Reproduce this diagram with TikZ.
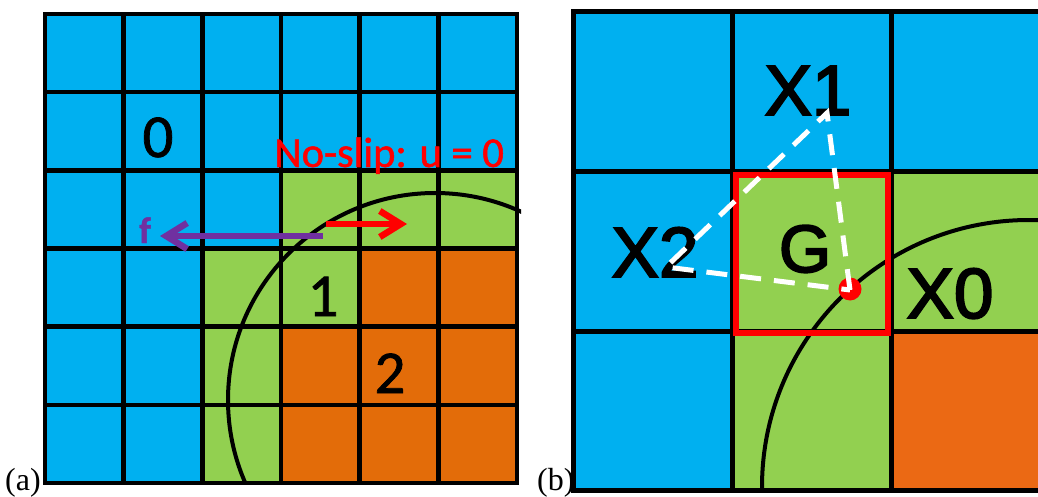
\documentclass[tikz,border=0pt]{standalone}
\usepackage{fontspec}
\setmainfont{Liberation Serif}
\newfontfamily\calfont{Carlito}[FakeBold=1.2]
\newfontfamily\arialfont{Liberation Sans}[FakeBold=2.8]
\usetikzlibrary{arrows.meta}
\definecolor{cblue}{HTML}{00B0F0}
\definecolor{cgreen}{HTML}{92D050}
\definecolor{corange}{HTML}{E36C09}
\definecolor{corangeb}{HTML}{EB6914}
\definecolor{cpurple}{HTML}{7030A0}
\definecolor{cred}{HTML}{FF0000}
\tikzset{
  lgrid/.style={line width=4.5pt, black, line cap=rect},
  rgrid/.style={line width=5pt, black, line cap=rect},
  arcline/.style={line width=4pt, black},
  digitlab/.style={inner sep=0pt, anchor=base, font=\calfont\fontsize{61}{61}\selectfont},
  xlab/.style={inner sep=0pt, anchor=base, font=\arialfont\fontsize{71}{71}\selectfont},
  caplab/.style={inner sep=0pt, anchor=base west, font=\fontsize{32}{32}\selectfont},
  barrow/.style={line width=6.5pt, -{Straight Barb[length=21pt,width=26pt]}},
  triline/.style={white, line width=5pt, dash pattern=on 21pt off 13pt, line cap=butt, line join=miter},
}
\begin{document}
\begin{tikzpicture}[x=1pt,y=-1pt]
\useasboundingbox (0,0) rectangle (1038,497);
% ---------- left grid (a) ----------
\fill[cblue] (45,14) rectangle (517,483);
\fill[cgreen] (281,170.3) rectangle (517,248.5);
\fill[cgreen] (202.3,248.5) rectangle (359.7,326.7);
\fill[cgreen] (202.3,326.7) rectangle (281,483);
\fill[corange] (359.7,248.5) rectangle (517,326.7);
\fill[corange] (281,326.7) rectangle (517,483);
\foreach \i in {0,...,6} {
  \draw[lgrid] ({45+\i*78.667},14) -- ({45+\i*78.667},483);
  \draw[lgrid] (45,{14+\i*78.167}) -- (517,{14+\i*78.167});
}
\begin{scope}
  \clip (45,14) rectangle (521,483);
  \draw[arcline] (435,400) circle[radius=207pt];
\end{scope}
\node[digitlab] (zero) at (158,157) {0};
\node[digitlab] (one) at (323,316) {1};
\node[digitlab] (two) at (390,393) {2};
\node[inner sep=0pt, anchor=base west, text=cred, font=\calfont\fontsize{42.5}{42.5}\selectfont] (noslip) at (274,167) {No-slip: u = 0};
\node[inner sep=0pt, anchor=base, text=cpurple, font=\calfont\bfseries\fontsize{37}{37}\selectfont] (flab) at (145,243) {f};
\coordinate (fstart) at (323,236);
\coordinate (fend) at (160,236);
\coordinate (ustart) at (326,224);
\coordinate (uend) at (407,224);
\draw[barrow, cpurple] (fstart) -- (fend);
\draw[barrow, cred] (ustart) -- (uend);
\node[caplab] (capa) at (5,490) {(a)};
% ---------- right grid (b) ----------
\fill[cblue] (573,12) rectangle (1050,490);
\fill[cgreen] (732,172) rectangle (1050,331);
\fill[cgreen] (732,331) rectangle (891,490);
\fill[corangeb] (891,331) rectangle (1050,490);
\foreach \x in {573,732,891} {
  \draw[rgrid] (\x,12) -- (\x,490);
}
\foreach \y in {12,172,331,490} {
  \draw[rgrid] (573,\y) -- (1050,\y);
}
\begin{scope}
  \clip (573,12) rectangle (1050,490);
  \draw[arcline] (1029,487) circle[radius=267pt];
\end{scope}
\draw[cred, line width=6.5pt] (736,175) rectangle (888,333);
\node[xlab] (xone) at (808,115) {X1};
\node[xlab] (xtwo) at (655,277) {X2};
\node[xlab, font=\arialfont\fontsize{67}{67}\selectfont] (gee) at (805,272) {G};
\node[xlab] (xzero) at (950,318) {X0};
\node[circle, fill=cred, inner sep=0pt, minimum size=23pt] (pdot) at (850,289) {};
\coordinate (v1) at (827,113);
\coordinate (v2) at (666,267);
\coordinate (v0) at (850,290);
\draw[triline] (v0) -- (v1) -- (v2) -- cycle;
\node[caplab] (capb) at (537,490) {(b)};
\end{tikzpicture}
\end{document}
